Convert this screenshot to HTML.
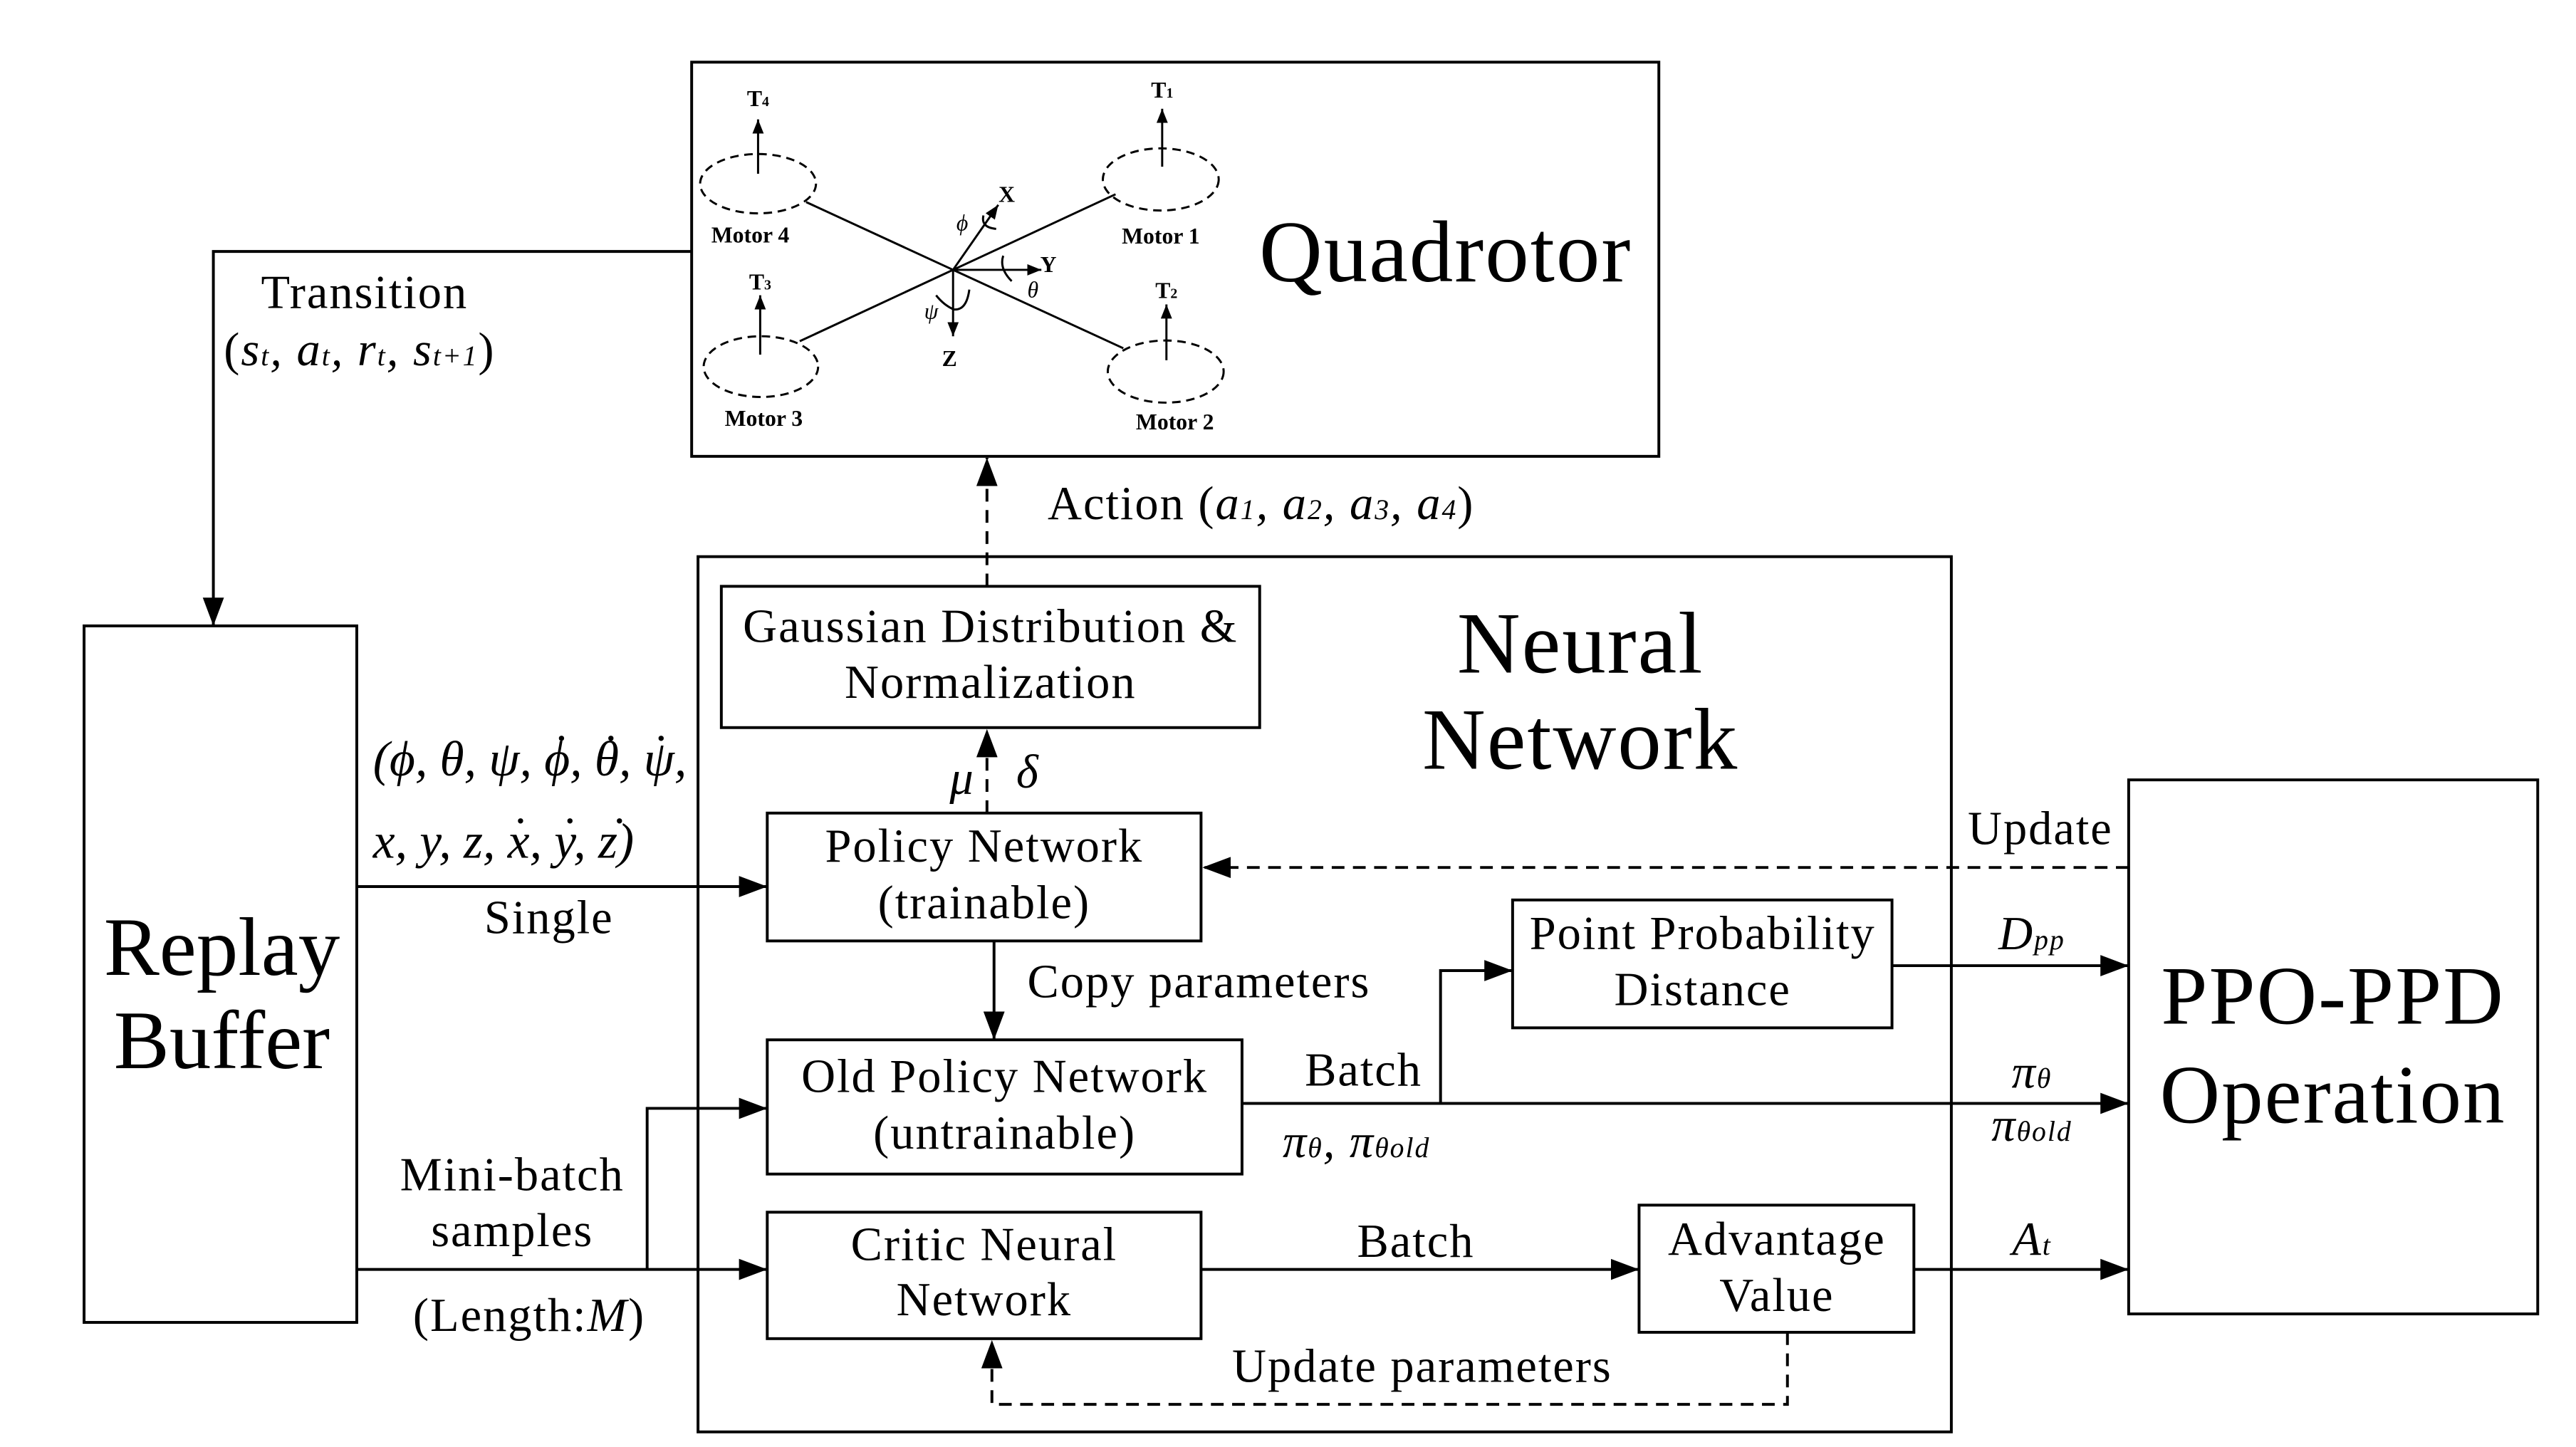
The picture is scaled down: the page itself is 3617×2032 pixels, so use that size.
<!DOCTYPE html>
<html><head><meta charset="utf-8"><style>
html,body{margin:0;padding:0;background:#fff}
svg{display:block}
text{font-family:"Liberation Serif",serif;fill:#000}
</style></head><body>
<svg width="3617" height="2032" viewBox="0 0 3617 2032" xmlns="http://www.w3.org/2000/svg">
<defs>
<marker id="A" viewBox="0 0 40 30" refX="40" refY="15" markerWidth="40" markerHeight="30" orient="auto" markerUnits="userSpaceOnUse"><path d="M0,0 L40,15 L0,30z" fill="#000"/></marker>
<marker id="s" viewBox="0 0 20 16" refX="20" refY="8" markerWidth="20" markerHeight="16" orient="auto" markerUnits="userSpaceOnUse"><path d="M0,0 L20,8 L0,16z" fill="#000"/></marker>
</defs>
<g transform="scale(0.992)">
<g fill="none" stroke="#000" stroke-width="4">
<rect x="979" y="88" width="1369" height="558"/>
<rect x="988" y="788" width="1774" height="1239"/>
<rect x="119" y="886" width="386" height="986"/>
<rect x="3013" y="1104" width="579" height="756"/>
<rect x="1021" y="830" width="762" height="200"/>
<rect x="1086" y="1151" width="614" height="181"/>
<rect x="1086" y="1472" width="672" height="190"/>
<rect x="1086" y="1716" width="614" height="179"/>
<rect x="2141" y="1274" width="537" height="181"/>
<rect x="2320" y="1706" width="389" height="180"/>
<polyline points="979,356 302,356 302,886" marker-end="url(#A)"/>
<line x1="1397" y1="830" x2="1397" y2="648" stroke-dasharray="18,12" marker-end="url(#A)"/>
<line x1="1397" y1="1151" x2="1397" y2="1032" stroke-dasharray="18,12" marker-end="url(#A)"/>
<line x1="505" y1="1255" x2="1086" y2="1255" marker-end="url(#A)"/>
<line x1="3013" y1="1228" x2="1702" y2="1228" stroke-dasharray="18,12" marker-end="url(#A)"/>
<line x1="1407" y1="1332" x2="1407" y2="1472" marker-end="url(#A)"/>
<line x1="1758" y1="1562" x2="3013" y2="1562" marker-end="url(#A)"/>
<polyline points="2039,1562 2039,1374 2141,1374" marker-end="url(#A)"/>
<line x1="2678" y1="1367" x2="3013" y2="1367" marker-end="url(#A)"/>
<line x1="505" y1="1797" x2="1086" y2="1797" marker-end="url(#A)"/>
<polyline points="916,1797 916,1569 1086,1569" marker-end="url(#A)"/>
<line x1="1700" y1="1797" x2="2320" y2="1797" marker-end="url(#A)"/>
<line x1="2709" y1="1797" x2="3013" y2="1797" marker-end="url(#A)"/>
<polyline points="2530,1886 2530,1988 1404,1988 1404,1897" stroke-dasharray="18,12" marker-end="url(#A)"/>
<g stroke-width="3">
<line x1="1349" y1="382" x2="1141" y2="286"/>
<line x1="1349" y1="382" x2="1579" y2="275"/>
<line x1="1349" y1="382" x2="1132" y2="483"/>
<line x1="1349" y1="382" x2="1590" y2="493"/>
<g stroke-dasharray="12,8">
<ellipse cx="1073" cy="260" rx="82" ry="42"/>
<ellipse cx="1643" cy="254" rx="82" ry="44"/>
<ellipse cx="1077" cy="519" rx="81" ry="43"/>
<ellipse cx="1650" cy="526" rx="82" ry="44"/>
</g>
<line x1="1073" y1="246" x2="1073" y2="169" marker-end="url(#s)"/>
<line x1="1645" y1="236" x2="1645" y2="154" marker-end="url(#s)"/>
<line x1="1076" y1="502" x2="1076" y2="418" marker-end="url(#s)"/>
<line x1="1651" y1="510" x2="1651" y2="431" marker-end="url(#s)"/>
<line x1="1349" y1="382" x2="1413" y2="290" marker-end="url(#s)"/>
<line x1="1349" y1="382" x2="1474" y2="382" marker-end="url(#s)"/>
<line x1="1349" y1="382" x2="1349" y2="476" marker-end="url(#s)"/>
<path d="M1392,305 Q1388,322 1410,324"/>
<path d="M1420,362 Q1414,380 1432,398"/>
<path d="M1372,410 Q1368,440 1350,438 Q1336,432 1325,418"/>
</g>
</g>
<g font-weight="bold" font-size="32" text-anchor="middle">
<text x="1073" y="150">T<tspan font-size="20">4</tspan></text>
<text x="1645" y="138">T<tspan font-size="20">1</tspan></text>
<text x="1076" y="410">T<tspan font-size="20">3</tspan></text>
<text x="1651" y="422">T<tspan font-size="20">2</tspan></text>
<text x="1062" y="343">Motor 4</text>
<text x="1643" y="345">Motor 1</text>
<text x="1081" y="603">Motor 3</text>
<text x="1663" y="608">Motor 2</text>
<text x="1425" y="286">X</text>
<text x="1484" y="385">Y</text>
<text x="1344" y="518">Z</text>
</g>
<g font-style="italic" font-size="32" text-anchor="middle">
<text x="1362" y="326">ϕ</text><text x="1462" y="421">θ</text><text x="1318" y="451">ψ</text>
</g>
<g text-anchor="middle">
<g font-size="124" letter-spacing="2">
<text x="2046" y="398">Quadrotor</text>
<text x="2237" y="952">Neural</text>
<text x="2237" y="1088">Network</text>
<text x="3302" y="1449" font-size="118">PPO-PPD</text>
<text x="3302" y="1589" font-size="118">Operation</text>
</g>
<text x="314" y="1380" font-size="118">Replay</text>
<text x="314" y="1512" font-size="118">Buffer</text>
<g font-size="67" letter-spacing="2">
<text x="1402" y="909">Gaussian Distribution &amp;</text>
<text x="1402" y="988">Normalization</text>
<text x="1393" y="1220">Policy Network</text>
<text x="1393" y="1300">(trainable)</text>
<text x="1422" y="1546">Old Policy Network</text>
<text x="1422" y="1626">(untrainable)</text>
<text x="1393" y="1784">Critic Neural</text>
<text x="1393" y="1862">Network</text>
<text x="2410" y="1343">Point Probability</text>
<text x="2410" y="1423">Distance</text>
<text x="2515" y="1776">Advantage</text>
<text x="2515" y="1856">Value</text>
<text x="516" y="436">Transition</text>
<text x="777" y="1321">Single</text>
<text x="1697" y="1412">Copy parameters</text>
<text x="1930" y="1537">Batch</text>
<text x="2004" y="1779">Batch</text>
<text x="2888" y="1195">Update</text>
<text x="2013" y="1956">Update parameters</text>
<text x="725" y="1685">Mini-batch</text>
<text x="725" y="1764">samples</text>
<text x="749" y="1884">(Length:<tspan font-style="italic">M</tspan>)</text>
<text x="1785" y="735">Action (<tspan font-style="italic">a<tspan font-size="40">1</tspan>, a<tspan font-size="40">2</tspan>, a<tspan font-size="40">3</tspan>, a<tspan font-size="40">4</tspan></tspan>)</text>
<text x="509" y="517">(<tspan font-style="italic">s<tspan font-size="40">t</tspan>, a<tspan font-size="40">t</tspan>, r<tspan font-size="40">t</tspan>, s<tspan font-size="40">t+1</tspan></tspan>)</text>
<text x="1362" y="1124" font-style="italic">μ</text>
<text x="1455" y="1115" font-style="italic">δ</text>
<text x="2876" y="1344" font-style="italic">D<tspan font-size="40">pp</tspan></text>
<text x="2876" y="1540" font-style="italic">π<tspan font-size="40">θ</tspan></text>
<text x="2876" y="1615" font-style="italic">π<tspan font-size="40">θold</tspan></text>
<text x="1920" y="1638" font-style="italic">π<tspan font-size="40">θ</tspan>,  π<tspan font-size="40">θold</tspan></text>
<text x="2876" y="1776" font-style="italic">A<tspan font-size="40">t</tspan></text>
</g>
</g>
<g font-size="70" font-style="italic">
<text x="528" y="1098">(ϕ, θ, ψ, ϕ, θ, ψ,</text>
<text x="528" y="1214">x, y, z, x, y, z)</text>
</g>
<g font-size="70">
<text x="783" y="1088">˙</text><text x="853" y="1088">˙</text><text x="924" y="1088">˙</text>
<text x="725" y="1205">˙</text><text x="795" y="1205">˙</text><text x="865" y="1205">˙</text>
</g>
</g>
</svg>
</body></html>
